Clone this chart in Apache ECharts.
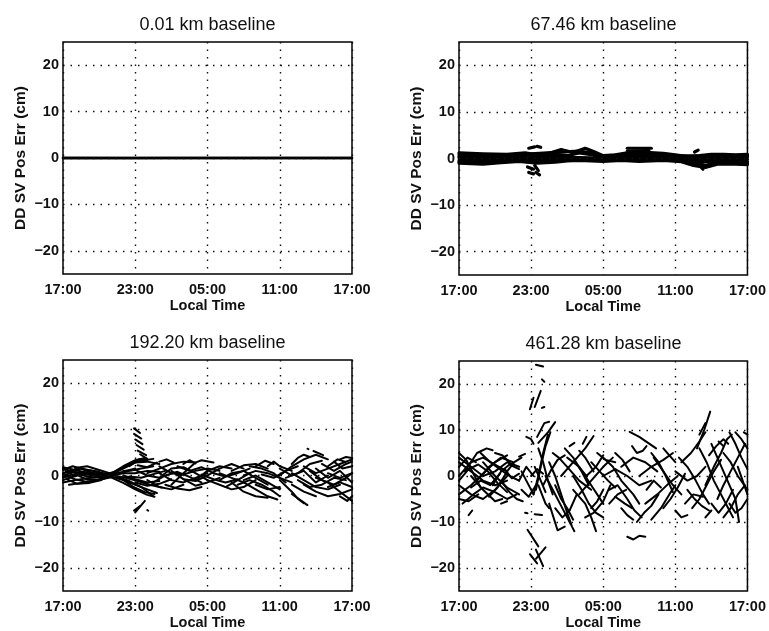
<!DOCTYPE html>
<html>
<head>
<meta charset="utf-8">
<script src="https://cdn.jsdelivr.net/npm/echarts@6/dist/echarts.min.js"></script>
<style>
html,body{margin:0;padding:0;background:#fff;}
#chart{width:769px;height:631px;}
</style>
</head>
<body>
<div id="chart"></div>
<script>
// ---------- data (time in hours after 17:00, value in cm) ----------
const panelTitles = ['0.01 km baseline', '67.46 km baseline', '192.20 km baseline', '461.28 km baseline'];
const xTickLabels = ['17:00', '23:00', '05:00', '11:00', '17:00'];
const yGridValues = [-20, -10, 0, 10, 20];
const xAxisName = 'Local Time';
const yAxisName = 'DD SV Pos Err (cm)';

const tracks001 = [
  [[0,0.05],[6,0],[12,0],[18,0],[24,0]],
  [[0,-0.05],[8,0],[16,0.02],[24,-0.02]]
];

const tracks067 = [
  [[0,1.2],[2,1.0],[4,0.9],[5.5,1.2],[6.5,0.8],[7.5,1.1],[8.5,1.9],[9.5,1.3],[10.5,2.2],[11.2,1.5],[12,0.6],[13,0.8],[14,1.2],[15.5,1.3],[17,1.1],[18,0.8],[19,0.4],[20,0.6],[21,0.9],[22,0.9],[23,0.8],[24,0.9]],
  [[0,-1.0],[2,-1.2],[3.5,-0.9],[5,-0.6],[6.5,-1.0],[8,-0.8],[9,-0.5],[10,-0.4],[12,-0.6],[13.5,-0.4],[15,-0.6],[17,-0.4],[18.5,-0.7],[19.5,-1.5],[20.5,-1.9],[21.5,-1.2],[23,-1.2],[24,-1.3]],
  [[0,0.9],[2,0.7],[4,0.6],[6,1.0],[8,1.3],[10,1.6],[11,1.2],[12,0.4],[14,1.0],[16,1.1],[18,0.6],[20,0.5],[22,0.7],[24,0.6]],
  [[0,-0.7],[2,-0.9],[4,-0.5],[6,-0.7],[8,-0.4],[10,-0.2],[12,-0.4],[14,-0.2],[16,-0.2],[18,-0.4],[19.5,-1.0],[20.5,-1.4],[22,-0.9],[24,-1.0]],
  [[0,0.5],[3,0.3],[5,0.5],[6,0.8],[7,0.5],[8,0.9],[9,0.6],[10,1.2],[11,0.8],[12,0.3],[14,0.8],[16,0.9],[18,0.5],[20,0.2],[22,0.4],[24,0.3]],
  [[0,-0.4],[2,-0.5],[4,-0.2],[6,-0.3],[8,0.1],[10,0.2],[12,-0.2],[14,0.1],[16,0.2],[18,-0.1],[20,-0.6],[22,-0.6],[24,-0.7]],
  [[0,0.2],[3,-0.1],[6,0.2],[9,0.2],[12,0.1],[15,0.5],[18,0.2],[21,-0.2],[24,-0.2]],
  [[14,2.2],[16,2.2]],
  [[14,1.6],[15.8,1.7]],
  [[5.8,2.2],[6.3,2.5]],
  [[6.5,2.6],[6.8,2.4]],
  [[5.7,-1.8],[6.2,-2.3]],
  [[5.8,-3.0],[6.2,-3.3]],
  [[6.4,-3.0],[6.7,-3.5]],
  [[6.3,-1.5],[6.6,-2.6]],
  [[20.0,-1.5],[20.3,-2.3]],
  [[19.6,1.4],[19.9,1.8]]
];

const tracks192 = [
  [[0,1.8],[1,1.2],[2,0.6],[3,0.2],[4,0]],
  [[0,-1.5],[1,-1.0],[2,-0.6],[3,-0.3],[4,0]],
  [[0,0.5],[1.5,1.5],[2.5,1.0],[3.5,0.4]],
  [[0,-0.5],[1,0.3],[2,-0.9],[3,-0.8],[4,-0.3]],
  [[0.2,1.0],[1,-0.2],[2,1.2],[3,0.8]],
  [[0.5,-2.0],[1.5,-1.6],[2.5,-1.2],[3.5,-0.6]],
  [[0,1.2],[0.8,2.0],[1.6,1.4],[2.4,0.6],[3.2,0.3]],
  [[0,-1.0],[0.8,-0.3],[1.6,0.4],[2.4,0.2],[3.2,-0.2],[4,-0.1]],
  [[0,0.2],[1,-0.8],[2,-1.4],[3,-0.9],[4,-0.4]],
  [[0.3,-0.8],[1.2,-1.8],[2.2,-1.6],[3.2,-1.0]],
  [[0,1.5],[1,0.6],[2,-0.2],[3,0.1],[4,0.1]],
  [[1,1.6],[2,2.0],[3,1.2],[4,0.4]],
  [[0,-0.2],[1,0.0],[2,0.4],[3,-0.4],[4,-0.2]],
  [[0,0],[1,0.8],[2,0.2],[3,0.5],[4.2,0.3],[5,0.8],[6,1.5]],
  [[4,0.2],[5,1.5],[6,2.8],[7,3.0],[8,2.5]],
  [[4,-0.2],[5,-1.0],[6,-2.0],[7,-3.0],[7.8,-3.8]],
  [[4.5,-0.3],[5.5,-1.2],[6.5,-2.5],[7.5,-4.5]],
  [[4.5,0.3],[5.5,1.0],[6.5,1.5],[7.5,2.0]],
  [[5,0],[6,-0.8],[7,-1.5],[8,-1.2]],
  [[4.8,-0.6],[5.8,-2.4],[6.8,-3.6],[7.6,-4.0]],
  [[5.5,2.0],[6.3,3.5],[7,3.3]],
  [[3.5,0.2],[4.5,1.0],[5.5,2.5],[6.5,3.2],[7.5,3.6]],
  [[4,0],[5,0.5],[6,0.5],[7,1.0],[8,0.8]],
  [[4.2,0],[5.2,-0.5],[6.2,-1.2],[7.2,-2.0],[8.2,-2.6]],
  [[3.8,-0.2],[5,-1.6],[6,-3.0],[7,-4.2],[7.6,-4.6]],
  [[5,1],[6,1.2],[7,0],[8,-0.5]],
  [[5.5,-0.2],[6.5,-0.5],[7.5,0.3],[8.5,1.0]],
  [[6.2,2.2],[7,1.8],[7.8,2.8]],
  [[4,0.4],[5,2.0],[6,3.3],[6.8,3.8]],
  [[6,-1.5],[7,-2.2],[8,-1.8],[9,-0.8]],
  [[5.9,10.2],[6.4,9.2]],
  [[5.9,9.0],[6.5,8.0]],
  [[6.0,7.8],[6.6,6.8]],
  [[6.1,6.6],[6.7,5.6]],
  [[6.2,5.4],[6.9,4.4]],
  [[6.4,4.6],[7.0,3.6]],
  [[6.0,-8.0],[6.8,-5.5]],
  [[5.9,-7.6],[6.4,-6.6]],
  [[7.0,-7.5],[7.08,-7.6]],
  [[7,0.5],[8,1.5],[9,2.5],[10,3.0],[11,2.8]],
  [[7,-1.0],[8,-2.5],[9,-3.0],[10,-2.0]],
  [[8,0.5],[9,-1.0],[10,-1.5],[11,-0.5],[12,0.5]],
  [[8,2.0],[9,0.5],[10,0.2],[11,1.0],[12,1.5],[13,1.0]],
  [[9,-2.0],[10,0.5],[11,2.8],[11.5,3.3],[12.5,2.8]],
  [[10,-0.8],[11,-2.2],[12,-1.5],[13,-0.5]],
  [[8,-0.5],[9,1.5],[10,1.8],[11,0.5],[12,-1.0]],
  [[8.5,-2.0],[9.5,-2.8],[10.5,-3.2],[11.5,-2.5]],
  [[9,1.0],[10,-0.8],[11,-1.2],[12,0]],
  [[10,2.5],[10.5,3.3],[11,2.6]],
  [[8,3.0],[8.6,3.5],[9.2,2.8]],
  [[7.5,-1.5],[8.5,0],[9.5,0.8],[10.5,-0.3],[11.5,-1.5]],
  [[9.5,2.0],[10.5,1.0],[11.5,1.8],[12.5,0.5]],
  [[11,-1.0],[12,1.0],[13,2.0],[14,1.5]],
  [[11.5,0.2],[12.5,-0.8],[13.5,-1.5],[14.5,-0.8]],
  [[12,0],[13,1.5],[14,2.5],[15,1.5]],
  [[12,-1.0],[13,-2.0],[14,-3.0],[15,-2.5],[16,-1.0]],
  [[13,0.5],[14,-0.5],[15,-1.5],[16,-3.0],[17,-4.5],[17.8,-5.2]],
  [[14,1.0],[15,2.2],[16,2.5],[17,1.5]],
  [[15,0],[16,1.0],[17,0.5],[18,-0.5],[19,-1.5]],
  [[16,-2.0],[17,-3.0],[18,-2.5]],
  [[17,2.0],[17.5,3.0],[18,2.0],[19,1.0]],
  [[14,-1.5],[15,-3.5],[16,-4.5],[17,-4.8]],
  [[15,-1.0],[16,0],[17,-1.5],[18,-3.0]],
  [[16,2.0],[16.8,3.2],[17.5,2.5]],
  [[14.5,-2.0],[15.5,-1.0],[16.5,-2.0],[17.5,-3.5],[18,-4.5]],
  [[12.5,0.5],[13.5,-0.2],[14.5,0.5],[15.5,1.5]],
  [[16.5,0.2],[17.5,-0.5],[18.5,1.0],[19.5,2.0]],
  [[13.5,-2.5],[14.5,-1.0],[15.5,0.5]],
  [[13,-1.0],[14,0.5],[15,1.0],[16,-0.5],[17,-2.0]],
  [[15.5,2.0],[16.5,1.5],[17.5,0.5],[18.5,-1.5]],
  [[18,0],[19,2.0],[20,3.5],[21,4.5],[22,3.5]],
  [[18,-1.0],[19,-3.5],[19.5,-5.0],[20,-6.0]],
  [[19,0.5],[20,-1.0],[21,-2.5],[22,-3.0],[23,-2.0]],
  [[20,2.0],[21,0.5],[22,1.5],[23,2.5],[24,3.5]],
  [[20.3,5.8],[20.38,5.7]],
  [[20.8,5.3],[21.6,4.4]],
  [[21,-0.5],[22,-1.5],[23,-3.5],[24,-5.5]],
  [[22,0.5],[23,-0.5],[24,0.5]],
  [[21,1.5],[22,-0.5],[23,1.0],[24,-1.5]],
  [[19,-2.0],[20,-3.5],[21,-4.5]],
  [[22.5,3.0],[23.2,1.5],[24,2.0]],
  [[18.5,-0.5],[19.5,0.5],[20.5,2.5],[21.5,3.2]],
  [[19,2.5],[19.5,3.8],[20,4.5],[20.5,4.0]],
  [[19,-4.0],[19.8,-5.5],[20.3,-6.4]],
  [[20,-2.0],[21,-3.5],[22,-4.5],[23,-4.0],[24,-3.0]],
  [[20.5,1.0],[21.5,-1.0],[22.5,-2.0],[23.5,-0.5],[24,0.5]],
  [[21.5,2.5],[22.5,1.0],[23.5,2.5],[24,3.0]],
  [[22,-2.5],[23,-1.5],[24,-2.5]],
  [[23,3.5],[23.5,4.0],[24,3.8]],
  [[22,2.0],[22.8,3.5],[23.4,3.0]],
  [[23,-4.5],[23.6,-5.5],[24,-4.5]],
  [[18,1.5],[19,0],[20,1.0],[21,-1.5],[22,0]],
  [[19.5,-1.0],[20.5,-2.5],[21.5,-2.0],[22.5,-0.5],[23.5,-1.0]]
];

const tracks461 = [
  [[0,3],[1,1],[2,-1],[3,-2],[4,-1]],
  [[0,-2],[1,-4],[2,-5],[3,-3],[4,0]],
  [[0,0],[1,3],[2,4],[3,2.5],[4,1]],
  [[0,4],[1,2],[2,0],[3,1],[4,3],[5,2]],
  [[0,-4],[1,-2],[2,0.5],[3,3],[4,4.5]],
  [[0.3,-6],[1.2,-4],[2,-2.5],[3,-3.5],[4,-5],[4.8,-4]],
  [[0.5,1],[1.5,5],[2.3,6],[2.8,5.6]],
  [[0.8,-8.5],[1.1,-7.5]],
  [[1,0],[2,-3],[3,-5.5],[3.6,-5]],
  [[1.5,-1],[2.5,2],[3.5,4],[4.5,3]],
  [[2,3],[3,0],[4,-2.5],[5,-4]],
  [[2.8,-2],[3.5,1],[4.2,2.5],[5,1.5]],
  [[3,5],[3.6,4.5],[4.2,3]],
  [[0,2],[0.7,4],[1.4,3]],
  [[0,-1],[0.8,1.5],[1.6,2.5],[2.4,1],[3.2,-1.5],[4,-3.5]],
  [[0,5],[0.6,3.5],[1.2,0.5],[1.8,-2.5]],
  [[0,-5],[0.8,-5.5],[1.6,-4]],
  [[1.8,5],[2.6,3],[3.4,1.5],[4.2,0],[5,-1]],
  [[2.5,-4.5],[3.2,-2.5],[4,1],[4.6,3],[5.2,4]],
  [[3.5,-1],[4.2,-3.5],[4.8,-5],[5.3,-5.5]],
  [[1,-2.5],[1.8,-1],[2.6,-2],[3.4,0.5]],
  [[3.8,1.5],[4.4,-0.5],[5,0.5]],
  [[3.5,-6],[4,-5.5]],
  [[5.0,-1],[5.6,2],[6.2,0]],
  [[5.2,-3],[5.8,-4.5],[6.4,-2]],
  [[5.2,1],[5.7,-1.5],[6.2,-4]],
  [[5.0,4.2],[5.5,4.8]],
  [[5.6,8.5],[6.0,8.0],[6.2,7.0]],
  [[6.2,-4],[6.6,0],[7.0,5],[7.4,9]],
  [[6.4,-3],[6.8,2],[7.2,6.5],[7.6,9.5]],
  [[6.5,8.5],[7.1,11.5],[7.5,11.8]],
  [[6.3,2],[6.8,-1],[7.2,-3.5]],
  [[6.6,6],[7.0,3],[7.4,-1],[7.8,-4]],
  [[6.0,0],[6.5,1.5],[7.0,0.5]],
  [[6.6,-2],[7.2,-6],[7.5,-7]],
  [[6.3,-8.3],[6.9,-8.5]],
  [[5.5,-8],[5.7,-8.1]],
  [[6.4,24.2],[7.0,23.8]],
  [[6.9,21],[7.1,20.5]],
  [[5.9,14.5],[6.2,17.0]],
  [[6.3,15.0],[6.8,18.5]],
  [[6.9,14.8],[7.1,15]],
  [[6.6,7.2],[7.4,9.5],[8.0,11.7]],
  [[5.7,-11.7],[6.6,-15.3]],
  [[6.4,-18.0],[7.2,-15.5]],
  [[6.4,-16.0],[7.0,-19.6]],
  [[5.9,-17.0],[6.5,-19.0]],
  [[7.5,3],[8,0],[8.5,-4],[9,-8],[9.4,-11],[9.6,-12]],
  [[7.8,5],[8.3,4],[9,2],[10,-1],[11,-3]],
  [[8,-2],[8.5,-5],[9,-7],[9.5,-9.5]],
  [[7.5,-6],[8.2,-11.8],[8.8,-11]],
  [[7,-2],[7.6,1],[8.2,3.5],[8.8,4.5]],
  [[7.2,0],[7.8,-3],[8.4,-6],[9,-9],[9.3,-10.5]],
  [[8,-7],[8.6,-9],[9.2,-7.5],[9.8,-4]],
  [[8.8,6],[9.5,4],[10.2,1],[10.8,-2]],
  [[8.5,0],[9.5,3],[10.5,6],[11.2,8.7]],
  [[9,4],[10,2],[11,-2],[12,-6]],
  [[9.5,-3],[10.5,-6],[11,-9],[11.4,-12]],
  [[10,5.5],[10.5,4],[11.2,1]],
  [[10,-4],[11,-1],[12,2],[12.8,4]],
  [[11,-7],[11.5,-5.5],[12,-3]],
  [[9.2,6.5],[9.6,7.2]],
  [[10.3,7],[10.6,8.5]],
  [[9.5,0],[10.2,-3],[10.8,-6],[11.4,-8],[12,-9]],
  [[10.5,-9],[11.2,-8],[12,-5.5],[12.6,-2]],
  [[11,3],[11.7,1],[12.4,-1],[13,-2.5]],
  [[11.5,5],[12.2,3.5],[13,3]],
  [[12.5,-6],[13.2,-4],[13.9,-3]],
  [[9.8,2.5],[10.6,0],[11.4,2],[12,4.5]],
  [[12,0],[13,1.5],[14,0],[15,-2],[16,-1]],
  [[12,4],[12.8,2],[13.5,-1],[14.5,-4],[15,-6]],
  [[12.5,-3],[13.2,-2],[14,-5],[14.6,-7.5],[15.2,-9]],
  [[13.5,-7],[14,-8.5],[14.5,-9.5]],
  [[14,-13.2],[14.5,-13.8],[15,-13],[15.5,-13.2]],
  [[14.2,9.6],[15,8.5],[16.4,6]],
  [[14.4,6.5],[14.8,5],[15.3,5.5],[15.6,6.5]],
  [[13.5,2],[14.5,4],[15.5,3],[16.5,1]],
  [[15,0],[16,2],[17,3.5],[17.8,5]],
  [[15.5,-6],[16.5,-4],[17.5,-1.5],[18.2,0]],
  [[16,-9.5],[16.8,-7],[17.5,-4],[18,-2]],
  [[16.2,4],[17,1],[17.8,-2],[18.5,-4]],
  [[13,-4.5],[13.8,-6],[14.4,-7]],
  [[17,6],[17.5,4.5],[18,3]],
  [[14.8,-10],[15.4,-8],[16,-6.5],[16.6,-4]],
  [[16,5],[16.6,3],[17.2,0],[17.8,-3.5]],
  [[17,-7],[17.6,-5],[18.2,-2.5],[18.8,0.5]],
  [[13,5],[13.6,3.5],[14.2,1]],
  [[15.6,-3],[16.2,-1],[16.8,-2.5]],
  [[18,-7.5],[18.5,-9],[19,-8.5]],
  [[18,1],[19,-1],[19.8,0],[20.5,2]],
  [[18.5,3],[19.3,5],[20,7.5],[20.5,9.5]],
  [[19.8,6],[20.4,10],[20.9,14]],
  [[20,9],[20.5,11.5]],
  [[19,-3],[19.6,-5],[20.2,-6.5],[20.8,-7.5]],
  [[20,6],[20.6,3],[21.2,-1],[21.8,-4],[22.4,-7],[22.8,-9]],
  [[20.5,-2],[21.2,2],[21.8,5],[22.3,8],[22.7,9]],
  [[21,7],[21.5,4],[22,1],[22.5,-2],[23,-5],[23.3,-10]],
  [[21.5,-5],[22,-2],[22.6,1],[23.2,4],[23.8,7]],
  [[22,5],[22.6,3],[23.2,0],[24,-3]],
  [[22.5,-6],[23,-8],[23.5,-7],[24,-5]],
  [[23,9.5],[23.5,8],[24,6]],
  [[23.2,2],[23.6,-1],[24,-4]],
  [[18.8,-6],[19.5,-4],[20.3,-4.5]],
  [[21.6,7.5],[22,6.5]],
  [[20.5,-9],[21,-7.5]],
  [[23.7,9.5],[24,9]],
  [[18.3,4],[19,2],[19.7,-1],[20.3,-4],[20.8,-6]],
  [[19.4,-7],[20,-5],[20.6,-2],[21.2,1],[21.8,3.5]],
  [[21,-6],[21.6,-8],[22.2,-6],[22.8,-3]],
  [[22.5,9.5],[23,7],[23.5,4],[24,1.5]],
  [[22,-9],[22.6,-7],[23.2,-4],[23.8,-2]],
  [[20.8,4.5],[21.4,6.5],[22,8],[22.4,7]]
];

// ---------- layout ----------
const grids = [
  {left: 63,  top: 42,  width: 289, height: 232},
  {left: 459, top: 42,  width: 289, height: 233},
  {left: 63,  top: 360, width: 289, height: 232},
  {left: 459, top: 361, width: 289, height: 231}
];
const panelTracks = [tracks001, tracks067, tracks192, tracks461];
const panelWidths = [2.5, 3.2, 2, 2];

const FONT = "'Liberation Sans', Arial, Helvetica, sans-serif";
const dotted = {color: '#111', width: 1.4, type: [1.5, 6]};

const option = {
  backgroundColor: '#fff',
  animation: false,
  grid: grids.map(g => Object.assign({show: true, borderColor: '#000', borderWidth: 1.5, backgroundColor: '#fff'}, g)),
  xAxis: grids.map((g, i) => ({
    type: 'value', gridIndex: i, min: 0, max: 24, interval: 6,
    name: xAxisName, nameLocation: 'middle', nameGap: 24,
    nameTextStyle: {fontFamily: FONT, fontSize: 14.5, fontWeight: 'bold', color: '#111'},
    axisLine: {show: false}, axisTick: {show: false},
    axisLabel: {fontFamily: FONT, fontSize: 14.5, fontWeight: 'bold', color: '#111', margin: 8,
      showMinLabel: true, showMaxLabel: true,
      formatter: v => xTickLabels[Math.round(v / 6)]},
    splitLine: {show: true, lineStyle: dotted}
  })),
  yAxis: grids.map((g, i) => ({
    type: 'value', gridIndex: i, min: -25, max: 25, interval: 5,
    name: yAxisName, nameLocation: 'middle', nameGap: 34, nameRotate: 90,
    nameTextStyle: {fontFamily: FONT, fontSize: 15.5, fontWeight: 'bold', color: '#111'},
    axisLine: {show: false}, axisTick: {show: false},
    axisLabel: {fontFamily: FONT, fontSize: 14.5, fontWeight: 'bold', color: '#111', margin: 4,
      formatter: v => (yGridValues.indexOf(v) >= 0 ? (v < 0 ? '\u2212' + Math.abs(v) : String(v)) : '')},
    splitLine: {show: false}
  })),
  graphic: grids.map((g, i) => ({
    type: 'text', x: g.left + g.width / 2, y: g.top - 26,
    style: {text: panelTitles[i], fill: '#111', font: '18px ' + FONT, textAlign: 'center', textVerticalAlign: 'top'}
  })),
  series: []
};

panelTracks.forEach((tracks, p) => {
  option.series.push({
    type: 'line', xAxisIndex: p, yAxisIndex: p, data: [], symbol: 'none', silent: true, z: 1,
    markLine: {silent: true, symbol: ['none', 'none'], label: {show: false},
      lineStyle: dotted, animation: false,
      data: yGridValues.map(v => ({yAxis: v}))}
  });
  tracks.forEach(tr => {
    option.series.push({
      type: 'line', xAxisIndex: p, yAxisIndex: p, data: tr, symbol: 'none', silent: true,
      z: 3, lineStyle: {color: '#000', width: panelWidths[p], cap: 'round', join: 'round'}
    });
  });
});

const chart = echarts.init(document.getElementById('chart'), null, {renderer: 'canvas'});
chart.setOption(option);
</script>
</body>
</html>
